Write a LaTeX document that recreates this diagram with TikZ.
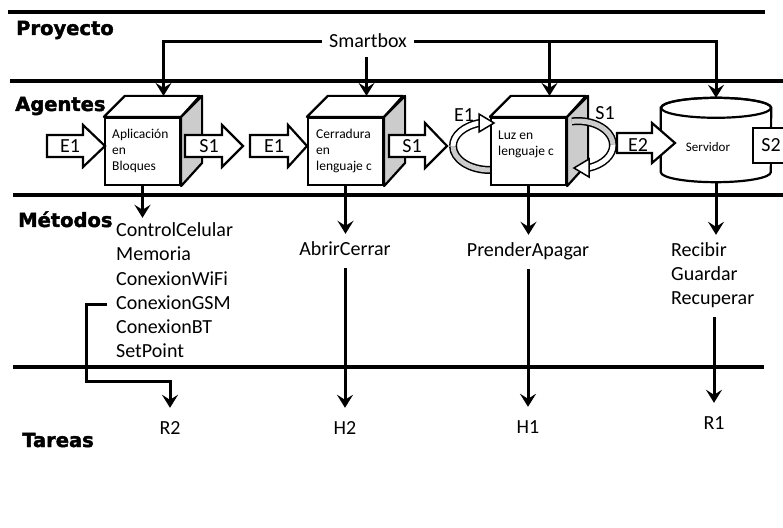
\documentclass[tikz,border=0pt]{standalone}
\usepackage{fontspec}
\setmainfont{Carlito}
\newfontfamily\headfont{DejaVu Sans}[BoldFeatures={FakeBold=2}]
\usetikzlibrary{arrows.meta,calc}
\definecolor{sidegray}{gray}{0.80}
\newcommand\cubefaces[1]{%
  \draw[cubeline,fill=white] (#1.north west) -- ++(21,21) -- ++(75,0) -- (#1.north east) -- cycle;
  \draw[cubeline,fill=sidegray] (#1.north east) -- ++(21,21) -- ++(0,-67) -- (#1.south east) -- cycle;}
\begin{document}
\begin{tikzpicture}[x=1pt,y=1pt,
 hline/.style={line width=3.4pt},
 arr/.style={line width=3pt,-{Stealth[length=13pt,width=16pt,inset=5pt]}},
 head/.style={font=\headfont\bfseries\fontsize{19.5}{21}\selectfont, inner sep=0pt, anchor=base west},
 big/.style={font=\fontsize{20}{24}\selectfont},
 lista/.style={big, text height=14pt, text depth=4pt, inner ysep=5pt, inner xsep=9pt, anchor=base west},
 metodo/.style={big, text height=14pt, text depth=4pt, inner ysep=8pt, inner xsep=0pt},
 tarea/.style={big, text height=13pt, text depth=0pt, inner ysep=13pt, inner xsep=0pt, anchor=base},
 cubef/.style={draw, line width=2.2pt, fill=white, minimum width=75pt, minimum height=67pt, inner sep=0pt},
 cubeline/.style={line width=2.2pt, line join=round},
 ctext/.style={font=\fontsize{13.5}{16}\selectfont, inner sep=0pt, anchor=base west},
 blk/.style={line width=2.2pt, fill=white, line join=miter},
 blabel/.style={big, inner sep=0pt, anchor=base},
 ringg/.style={line width=1.5pt, double=sidegray, double distance=5pt},
 ringw/.style={line width=1.5pt, double=white, double distance=5pt},
 rhead/.style={line width=1.5pt, fill=white, line join=miter},
]
\useasboundingbox (0,0) rectangle (783,527);
% lane lines
\draw[hline] (8,515) -- (765,515);
\draw[hline] (10,446) -- (783,446);
\draw[hline] (13,332) -- (783,332);
\draw[hline] (13,160) -- (764,160);
% headings
\node[head] (proy) at (16,492) {Proyecto};
\node[head] (agen) at (15,416) {Agentes};
\node[head] (meto) at (18,300) {Métodos};
\node[head] (tare) at (22,80) {Tareas};
% cubes
\node[cubef] (c1) at (142.5,375.5) {};
\cubefaces{c1}
\node[cubef] (c2) at (345.5,375.5) {};
\cubefaces{c2}
% left ring of cube 3
\draw[ringg] (490,357) arc[start angle=270,end angle=180,x radius=37pt,y radius=24pt];
\draw[ringw] (453,381) arc[start angle=180,end angle=105,x radius=37pt,y radius=24pt];
\node[cubef] (c3) at (528.5,375.5) {};
\cubefaces{c3}
% right ring
\draw[ringg] (571.9,405.6) arc[start angle=100,end angle=0,x radius=35pt,y radius=24pt];
\draw[ringw] (613,382) arc[start angle=0,end angle=-72,x radius=35pt,y radius=24pt];
\draw[rhead] (479,413) -- (494,404) -- (479,395) -- cycle;
\draw[rhead] (589,368) -- (574,359) -- (589,350) -- cycle;
\node[blabel] (e1c) at (464,405) {E1};
\node[blabel] (s1c) at (605,407) {S1};
% cube texts
\node[ctext] (c1a) at (112,388) {Aplicación};
\node[ctext] (c1b) at (112,372) {en};
\node[ctext] (c1c) at (112,356) {Bloques};
\node[ctext] (c2a) at (316,388) {Cerradura};
\node[ctext] (c2b) at (316,372) {en};
\node[ctext] (c2c) at (316,356) {lenguaje c};
\node[ctext] (c3a) at (498,387) {Luz en};
\node[ctext] (c3b) at (498,371) {lenguaje c};
% cylinder
\node[minimum width=110pt, minimum height=84pt, inner sep=0pt] (cyl) at (716,387) {};
\draw[line width=2.2pt, fill=white] ([yshift=-10pt]cyl.north west) -- ([yshift=10pt]cyl.south west)
  arc[start angle=180, end angle=360, x radius=55pt, y radius=10pt]
  -- ([yshift=-10pt]cyl.north east)
  arc[start angle=0, end angle=180, x radius=55pt, y radius=10pt] -- cycle;
\draw[line width=2.2pt] ([yshift=-10pt]cyl.north) ellipse[x radius=55pt, y radius=10pt];
\node[ctext, font=\fontsize{13}{15}\selectfont, anchor=base] (srv) at (708,375) {Servidor};
% block arrows
\draw[blk] (47,392) -- (83,392) -- (83,402) -- (105,381) -- (83,360) -- (83,370) -- (47,370) -- cycle;
\node[blabel] (e1a) at (70,374) {E1};
\draw[blk] (185,392) -- (222,392) -- (222,402) -- (243,381) -- (222,360) -- (222,370) -- (185,370) -- cycle;
\node[blabel] (s1a) at (209,374) {S1};
\draw[blk] (250,392) -- (288,392) -- (288,402) -- (307,381) -- (288,360) -- (288,370) -- (250,370) -- cycle;
\node[blabel] (e1b) at (274,374) {E1};
\draw[blk] (389,392) -- (425,392) -- (425,404) -- (447,381) -- (425,359) -- (425,370) -- (389,370) -- cycle;
\node[blabel] (s1b) at (412,374) {S1};
\draw[blk] (617,394) -- (652,394) -- (652,404) -- (675,384) -- (652,364) -- (652,374) -- (617,374) -- cycle;
\node[blabel] (e2) at (638,375) {E2};
\draw[blk] (753,399) rectangle (800,364);
\node[blabel] (s2) at (771,375) {S2};
% project
\node[big, text height=13pt, text depth=0pt, inner ysep=9pt, inner xsep=7pt, anchor=base] (sb) at (368,479) {Smartbox};
\coordinate (t1) at ($(c1.north)+(21,21)$);
\coordinate (t2) at ($(c2.north)+(21,21)$);
\coordinate (t3) at ($(c3.north)+(21,21)$);
\draw[arr] (sb.west) -| (t1);
\draw[arr] (sb.east) -| (cyl.north);
\draw[arr] (sb.east -| t3) -- (t3);
\draw[arr] (sb.south -| t2) -- (t2);
% methods
\node[lista] (m1) at (107,290) {ControlCelular};
\node[lista] (m2) at (107,266) {Memoria};
\node[lista] (m3) at (107,241) {ConexionWiFi};
\node[lista] (m4) at (107,217) {ConexionGSM};
\node[lista] (m5) at (107,193) {ConexionBT};
\node[lista] (m6) at (107,169) {SetPoint};
\node[metodo, anchor=base] (abr) at (345,271) {AbrirCerrar};
\node[metodo, anchor=base] (pre) at (528,270) {PrenderApagar};
\node[metodo, anchor=base west] (rec1) at (671,270) {Recibir};
\node[metodo, anchor=base west] (rec2) at (671,246) {Guardar};
\node[metodo, anchor=base west] (rec3) at (671,222) {Recuperar};
% tasks
\node[tarea] (r2) at (170,93) {R2};
\node[tarea] (h2) at (345,93) {H2};
\node[tarea] (h1) at (528,94) {H1};
\node[tarea] (r1) at (714,98) {R1};
% connectors
\draw[arr] (c1.south) -- (c1.south |- m1.north);
\draw[arr] (c2.south) -- (c2.south |- abr.north);
\draw[arr] (c3.south) -- (c3.south |- pre.north);
\draw[arr] (cyl.south) -- (cyl.south |- rec1.north);
\draw[arr] (abr.south) -- (h2.north);
\draw[arr] (pre.south) -- (h1.north);
\draw[arr] (r1.north |- rec3.south) -- (r1.north);
\coordinate (r2k) at (r2.north |- 0,145);
\draw[arr] (m4.west) -- ++(-21,0) |- (r2k) -- (r2.north);
\end{tikzpicture}
\end{document}
